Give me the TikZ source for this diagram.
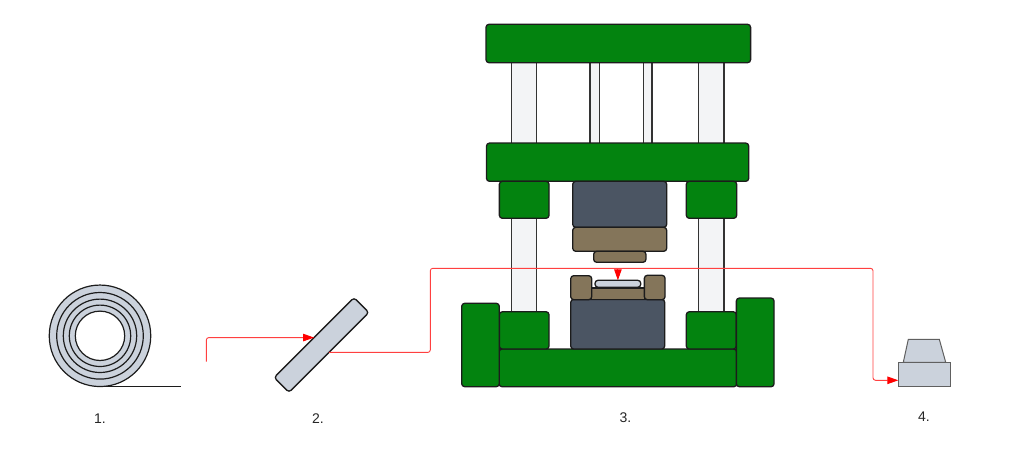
\documentclass[tikz,border=0pt]{standalone}
\usepackage{xcolor}
\usepackage{fontspec}
\setmainfont{Liberation Sans}
\usetikzlibrary{arrows.meta}
\definecolor{pressgreen}{HTML}{03830F}
\definecolor{diegray}{HTML}{4B5563}
\definecolor{diebrown}{HTML}{84755A}
\definecolor{steel}{HTML}{CBD2DC}
\definecolor{column}{HTML}{F3F4F6}
\definecolor{edge}{HTML}{1C1C1C}

\begin{document}
\begin{tikzpicture}[x=1pt, y=-1pt, every node/.style={inner sep=0pt, outer sep=0pt},
    part/.style={draw=edge, line width=1.3pt, rectangle, rounded corners=3pt},
    plate/.style={part, fill=pressgreen},
    block/.style={part, fill=diegray},
    brown/.style={part, fill=diebrown},
    metal/.style={part, fill=steel},
    bar/.style={draw=edge!90, line width=1.1pt, rectangle, fill=column},
    ring/.style={draw=edge, line width=1.2pt, circle, fill=steel},
    stock/.style={draw=edge!70, line width=1pt, fill=steel},
    flow/.style={red!75, line width=0.9pt, rounded corners=2.5pt},
    tip/.style={-{Triangle[length=11pt, width=7.5pt, color=red, fill=red]}},
    caption/.style={font=\fontsize{14}{16}\selectfont, text=black!85}]
    \useasboundingbox (0,0) rectangle (1024,462);

    % Coil
    \node[ring, minimum size=101.5pt] (coil1) at (100,335.8) {};
    \node[ring, minimum size=86.6pt] (coil2) at (100,335.8) {};
    \node[ring, minimum size=73.4pt] (coil3) at (100,335.8) {};
    \node[ring, minimum size=61.4pt] (coil4) at (100,335.8) {};
    \node[ring, fill=white, minimum size=49.4pt] (coil5) at (100,335.8) {};
    \coordinate (stripstart) at (94,386.7);
    \coordinate (stripend) at (180.7,386.7);
    \draw[edge, line width=1.5pt] (stripstart) -- (stripend);

    % Flow lines
    \node[metal, rotate=45, minimum width=113pt, minimum height=21pt] (blank) at (321.5,345) {};
    \coordinate (feed) at (206.3,361.7);
    \coordinate (rise) at (430.3,268.3);
    \coordinate (drop) at (873,268.3);
    \coordinate (boxin) at (898.3,380.3);

    % Columns
    \node[bar, minimum width=25.4pt, minimum height=250pt] (colleft) at (524,187) {};
    \node[bar, minimum width=25.4pt, minimum height=250pt] (colright) at (711.3,187) {};
    \node[bar, minimum width=9.3pt, minimum height=81pt] (guideleft) at (594.6,103) {};
    \node[bar, minimum width=8.7pt, minimum height=81pt] (guideright) at (647.6,103) {};

    \draw[flow, tip] (feed) |- (blank.north);
    \draw[flow, tip] (blank.south) -| (rise) -- (drop) |- (boxin);

    % Frame
    \node[plate, minimum width=264.6pt, minimum height=38.4pt] (crown) at (618.3,43.5) {};
    \node[plate, minimum width=262.2pt, minimum height=38.3pt] (slide) at (617.6,162.2) {};
    \node[plate, minimum width=49.7pt, minimum height=37pt] (upleft) at (524.2,199.8) {};
    \node[plate, minimum width=50.4pt, minimum height=37pt] (upright) at (711.5,199.8) {};
    \node[plate, minimum width=237.7pt, minimum height=37.7pt] (base) at (617.9,367.9) {};
    \node[plate, minimum width=49.7pt, minimum height=37.3pt] (lowleft) at (524.2,330.4) {};
    \node[plate, minimum width=50pt, minimum height=37.3pt] (lowright) at (711.3,330.4) {};
    \node[plate, minimum width=37.6pt, minimum height=83.4pt] (postleft) at (480.5,345) {};
    \node[plate, minimum width=37.7pt, minimum height=88.7pt] (postright) at (755.2,342.4) {};

    % Upper die
    \node[block, minimum width=94pt, minimum height=46pt] (holder) at (619.7,204.3) {};
    \node[brown, minimum width=94pt, minimum height=24pt] (punchplate) at (619.7,239.3) {};
    \node[brown, minimum width=52.3pt, minimum height=11pt] (punch) at (619.8,256.8) {};

    % Lower die
    \node[block, minimum width=94pt, minimum height=49.7pt] (bed) at (617.7,324.2) {};
    \node[brown, rounded corners=0pt, minimum width=53pt, minimum height=11.7pt] (diefloor) at (618.2,293.8) {};
    \node[brown, minimum width=21pt, minimum height=24pt] (dieleft) at (581.2,287.7) {};
    \node[brown, minimum width=20.7pt, minimum height=24.4pt] (dieright) at (654.7,287.5) {};
    \node[metal, minimum width=45.7pt, minimum height=7pt] (work) at (617.9,283.8) {};
    \coordinate (tap) at (work.north |- rise);
    \draw[flow, tip] (tap) -- (work.north);

    % Finished part
    \node[stock, rectangle, minimum width=51.7pt, minimum height=24pt] (box) at (924.2,374.3) {};
    \coordinate (lidbl) at (903.3,362.3);
    \coordinate (lidtl) at (908.3,339.3);
    \coordinate (lidtr) at (939.3,339.3);
    \coordinate (lidbr) at (945.7,362.3);
    \draw[stock] (lidbl) -- (lidtl) -- (lidtr) -- (lidbr) -- cycle;

    % Labels
    \node[caption] (label1) at (100,419) {1.};
    \node[caption] (label2) at (318,419) {2.};
    \node[caption] (label3) at (625.5,418) {3.};
    \node[caption] (label4) at (924,417) {4.};
\end{tikzpicture}
\end{document}
